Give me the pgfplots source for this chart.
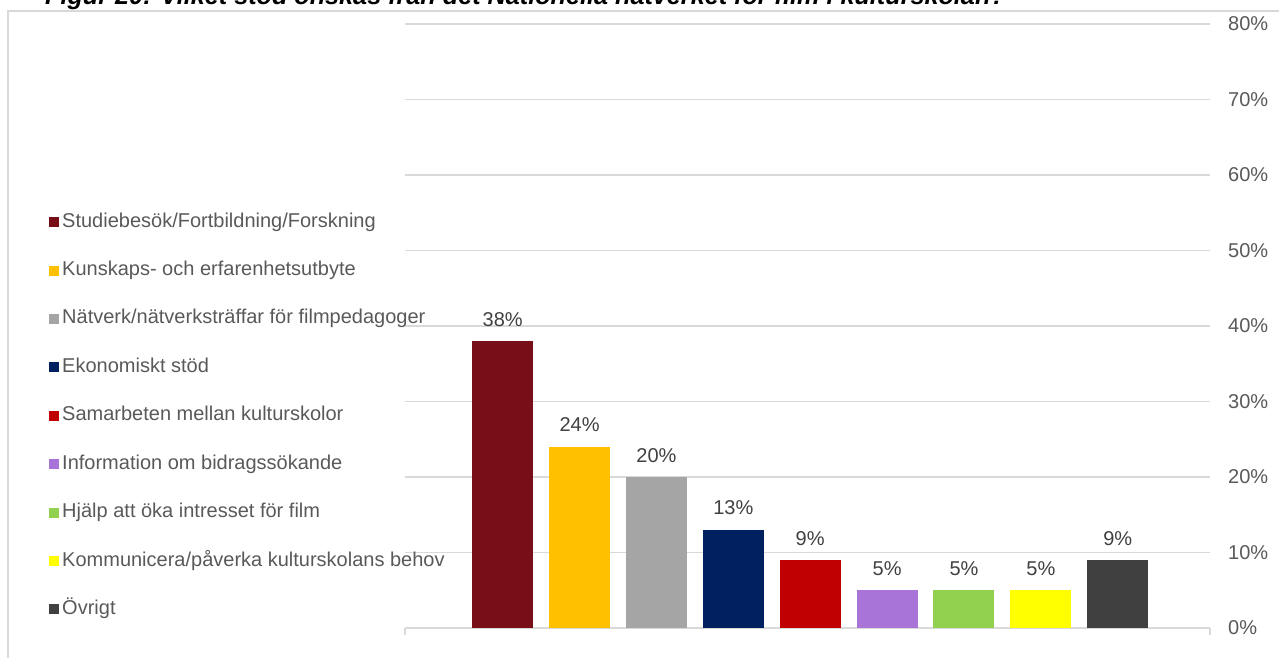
\documentclass[border=0pt]{standalone}
\usepackage{pgfplots}
\pgfplotsset{compat=1.18}
\usepackage{fontspec}
\setmainfont{Liberation Sans}

\definecolor{gridgray}{HTML}{D9D9D9}
\definecolor{txtgray}{HTML}{595959}
\definecolor{lblgray}{HTML}{404040}
\definecolor{c1}{HTML}{780F18}
\definecolor{c2}{HTML}{FFC000}
\definecolor{c3}{HTML}{A5A5A5}
\definecolor{c4}{HTML}{002060}
\definecolor{c5}{HTML}{C00000}
\definecolor{c6}{HTML}{A874D7}
\definecolor{c7}{HTML}{92D050}
\definecolor{c8}{HTML}{FFFF00}
\definecolor{c9}{HTML}{404040}

\newcommand\lab{\fontsize{20bp}{24bp}\selectfont}

\begin{document}
\begin{tikzpicture}[x=1bp,y=1bp]
% chart frame, runs off the page on the right and bottom
\draw[gridgray, line width=1.2bp] (8,-11) rectangle (1300,-700);
\node[anchor=base west, inner sep=0pt, font=\fontsize{25.2bp}{30bp}\selectfont\bfseries\itshape] at (45,-5)
  {Figur 20: Vilket stöd önskas från det Nationella nätverket för film i kulturskolan?};

\begin{axis}[
    at={(405bp,-628bp)}, anchor=south west,
    scale only axis,
    width=805bp, height=604bp,
    xmin=-1.27, xmax=9.2,
    ymin=0, ymax=80,
    ytick={0,10,...,80},
    yticklabel={\pgfmathprintnumber{\tick}\%},
    /pgf/number format/assume math mode=true,
    yticklabel pos=right,
    yticklabel style={font=\lab, text=txtgray, inner sep=0pt, xshift=11bp},
    ytick style={draw=none},
    xtick={-1.27,9.2},
    xticklabels={},
    tick align=outside,
    major tick length=7bp,
    x tick style={gridgray, line width=1.2bp},
    ymajorgrids,
    major grid style={gridgray, line width=1.2bp},
    axis x line*=bottom,
    axis y line*=right,
    axis line style={-},
    x axis line style={gridgray, line width=1.2bp},
    y axis line style={draw=none},
    bar width=61bp,
    nodes near coords={\pgfmathprintnumber{\pgfplotspointmeta}\%},
    nodes near coords style={font=\lab, text=lblgray, anchor=base, inner sep=0pt, yshift=15bp},
    legend image code/.code={\fill[#1] (0bp,-5bp) rectangle (10bp,5bp);},
    legend cell align=left,
    legend style={at={(axis description cs:-0.4422,0.6871)}, anchor=north west,
        draw=none, fill=none, inner sep=0pt, row sep=30.4bp, column sep=3bp,
        nodes={font=\lab, text=txtgray, inner sep=0pt, text height=14bp, text depth=4bp}},
]
\addplot[ybar, bar shift=0pt, fill=c1, draw=none] coordinates {(0,38)};
\addlegendentry{Studiebesök/Fortbildning/Forskning}
\addplot[ybar, bar shift=0pt, fill=c2, draw=none] coordinates {(1,24)};
\addlegendentry{Kunskaps- och erfarenhetsutbyte}
\addplot[ybar, bar shift=0pt, fill=c3, draw=none] coordinates {(2,20)};
\addlegendentry{Nätverk/nätverksträffar för filmpedagoger}
\addplot[ybar, bar shift=0pt, fill=c4, draw=none] coordinates {(3,13)};
\addlegendentry{Ekonomiskt stöd}
\addplot[ybar, bar shift=0pt, fill=c5, draw=none] coordinates {(4,9)};
\addlegendentry{Samarbeten mellan kulturskolor}
\addplot[ybar, bar shift=0pt, fill=c6, draw=none] coordinates {(5,5)};
\addlegendentry{Information om bidragssökande}
\addplot[ybar, bar shift=0pt, fill=c7, draw=none] coordinates {(6,5)};
\addlegendentry{Hjälp att öka intresset för film}
\addplot[ybar, bar shift=0pt, fill=c8, draw=none] coordinates {(7,5)};
\addlegendentry{Kommunicera/påverka kulturskolans behov}
\addplot[ybar, bar shift=0pt, fill=c9, draw=none] coordinates {(8,9)};
\addlegendentry{Övrigt}
\end{axis}

\pgfresetboundingbox
\useasboundingbox (0,0) rectangle (1279,-658);
\end{tikzpicture}
\end{document}
